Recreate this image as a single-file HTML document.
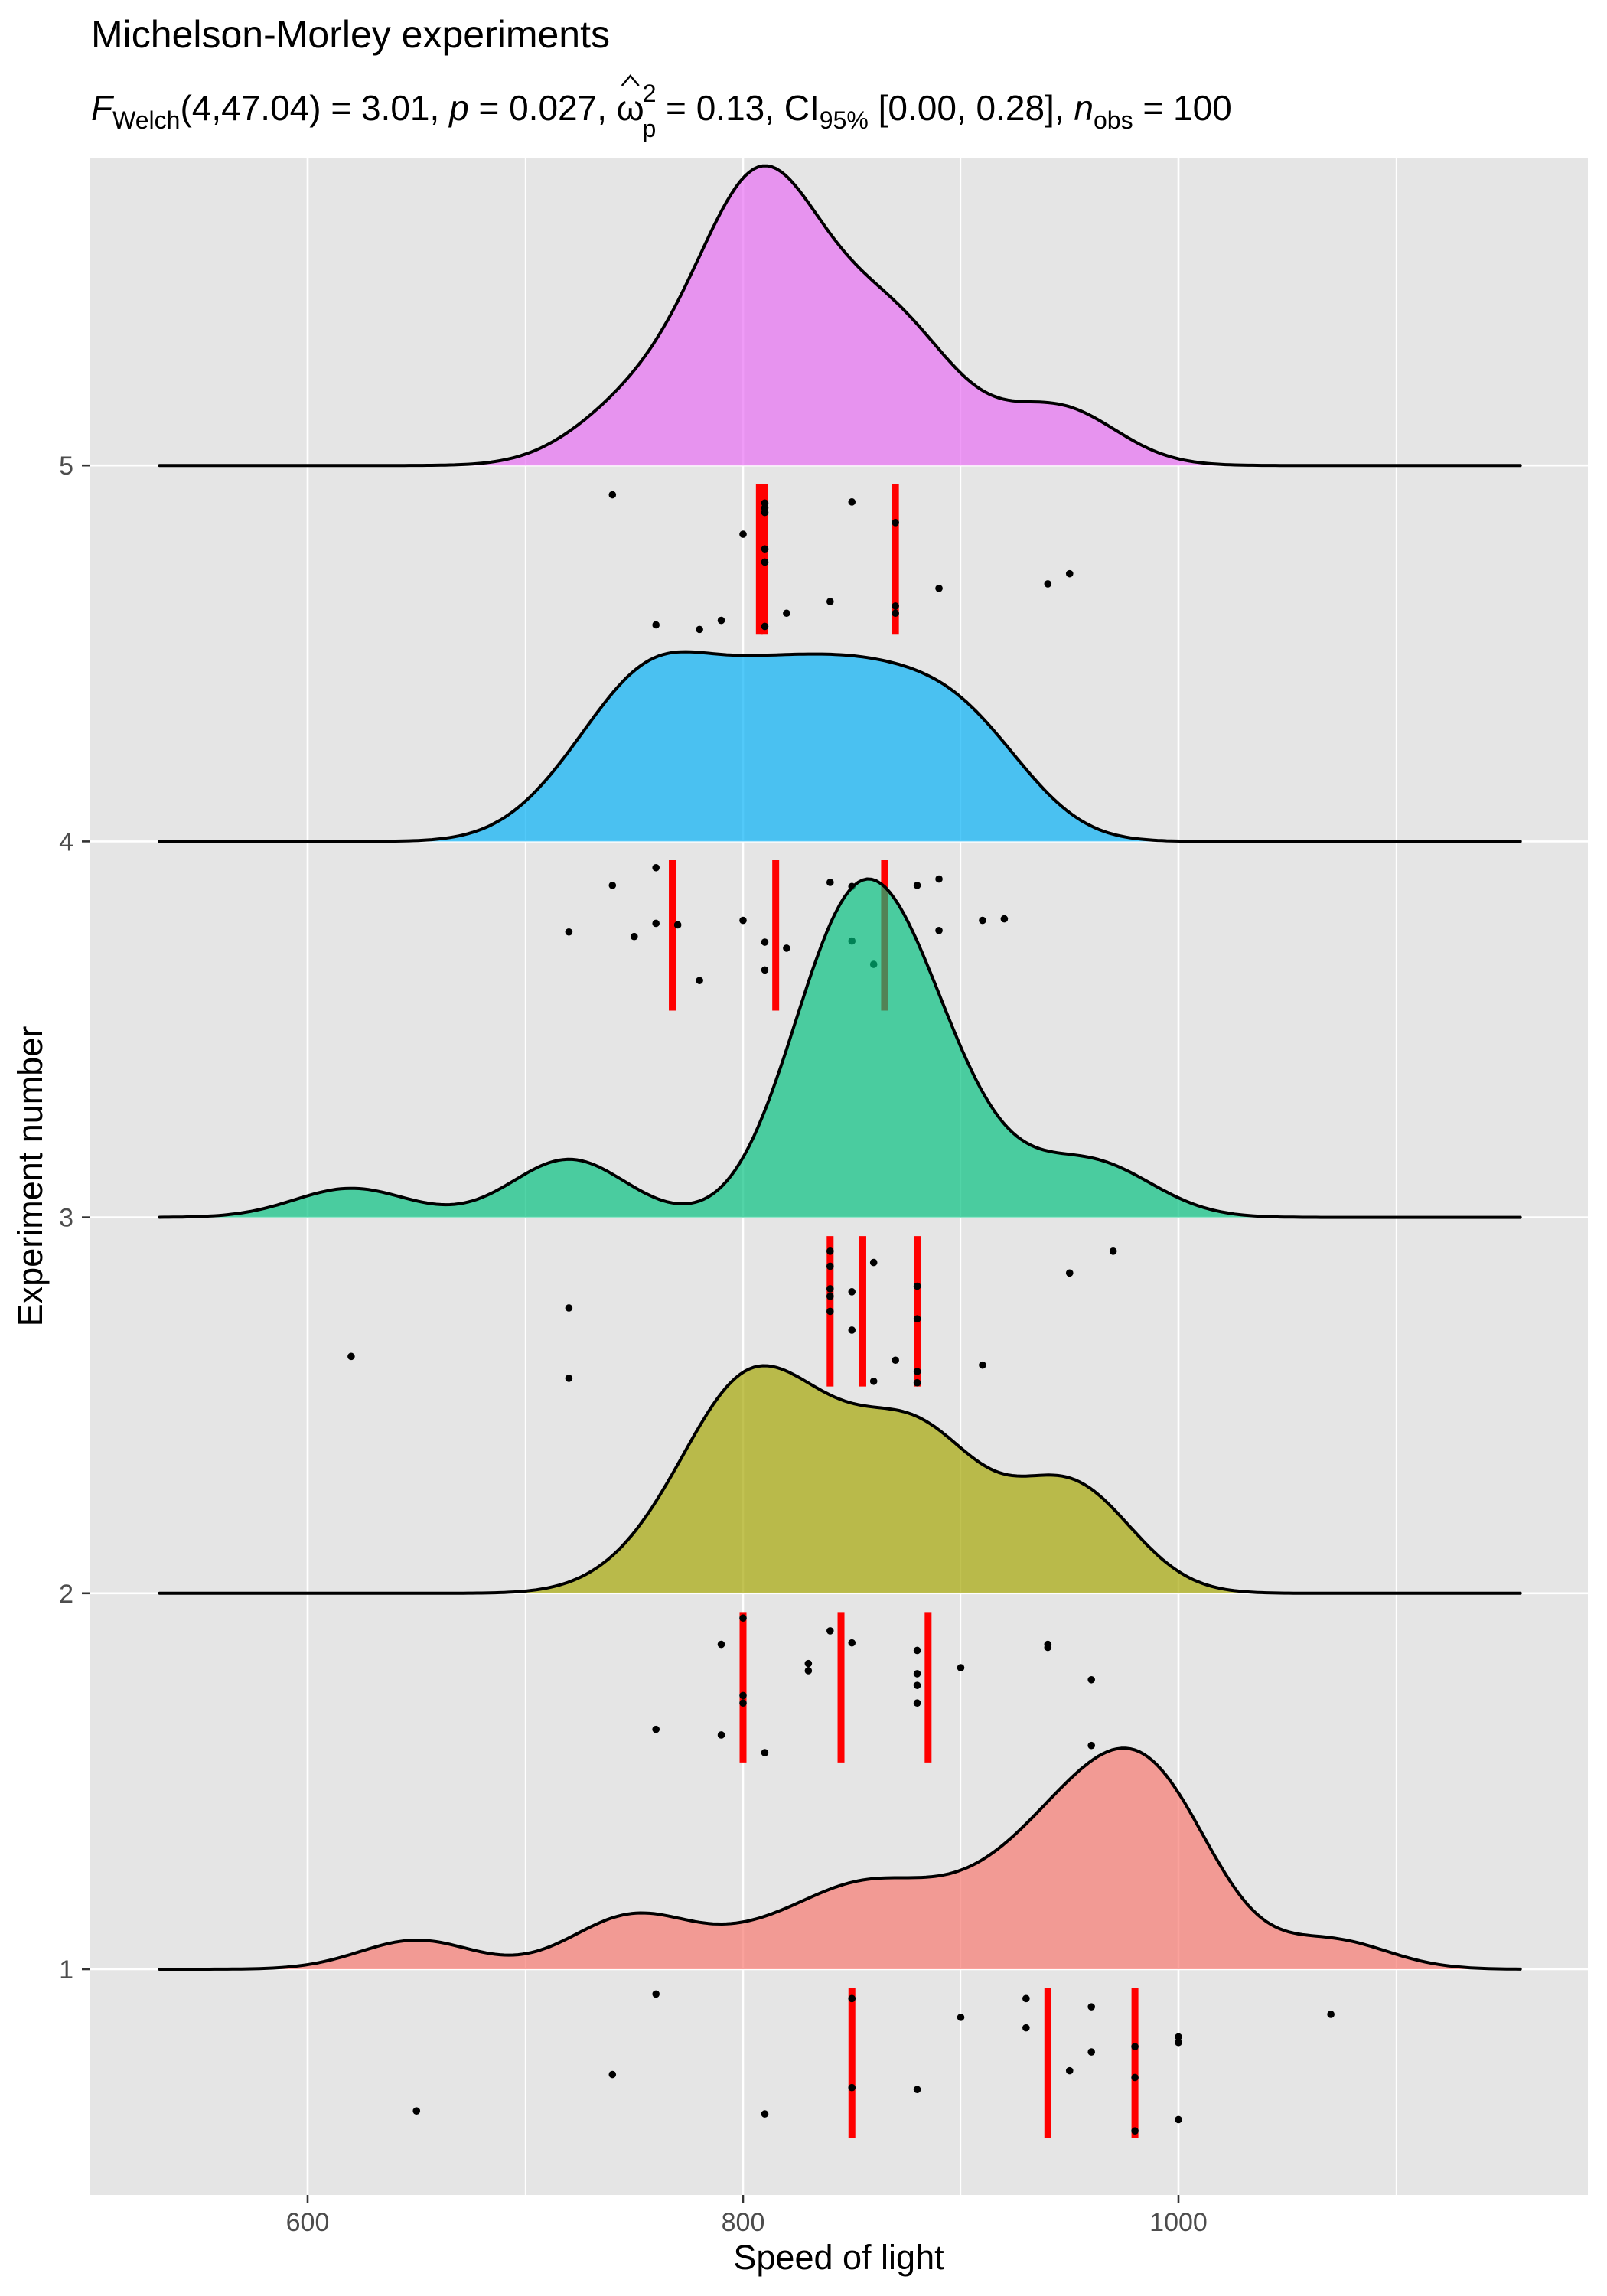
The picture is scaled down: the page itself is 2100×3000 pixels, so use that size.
<!DOCTYPE html>
<html><head><meta charset="utf-8"><style>
html,body{margin:0;padding:0;background:#fff;}
svg{display:block;font-family:"Liberation Sans",sans-serif;}
</style></head><body>
<svg id="chart" width="2100" height="3000" viewBox="0 0 2100 3000" xmlns="http://www.w3.org/2000/svg">
<text x="119" y="62" font-size="50" fill="#000">Michelson-Morley experiments</text>
<text id="subtitle" x="119" y="157" font-size="46" fill="#000"><tspan font-style="italic">F</tspan><tspan font-size="32" dy="11">Welch</tspan><tspan dy="-11">(4,47.04) = 3.01, </tspan><tspan font-style="italic">p</tspan><tspan> = 0.027, ω</tspan><tspan font-size="32" dx="-2" dy="-24">2</tspan><tspan font-size="32" dx="-18" dy="46">p</tspan><tspan dy="-22"> = 0.13, CI</tspan><tspan font-size="32" dy="11">95%</tspan><tspan dy="-11"> [0.00, 0.28], </tspan><tspan font-style="italic">n</tspan><tspan font-size="32" dy="11">obs</tspan><tspan dy="-11"> = 100</tspan></text>
<path id="omega-hat" d="" fill="none" stroke="#000" stroke-width="2.5"/>
<rect x="118" y="206" width="1957" height="2662" fill="#E5E5E5"/>
<g id="grid"></g>
<g id="marks"></g>
<g id="axes"></g>
<text x="1096" y="2965" font-size="45" text-anchor="middle" fill="#000">Speed of light</text>
<text transform="translate(55,1537) rotate(-90)" font-size="45" text-anchor="middle" fill="#000">Experiment number</text>
</svg>
<script>
const experiments = [1, 2, 3, 4, 5];
const speeds1 = [650,740,760,810,850,850,880,900,930,930,950,960,960,980,980,980,1000,1000,1000,1070];
const jitter1 = [0.377,0.28,0.066,0.385,0.078,0.315,0.32,0.128,0.078,0.156,0.27,0.10,0.22,0.206,0.288,0.43,0.18,0.195,0.40,0.12];
const speeds2 = [760,790,790,800,800,800,810,830,830,840,850,880,880,880,880,900,940,940,960,960];
const jitter2 = [0.362,0.136,0.377,0.066,0.272,0.292,0.424,0.187,0.206,0.10,0.132,0.152,0.214,0.245,0.292,0.198,0.136,0.144,0.23,0.405];
const speeds3 = [620,720,720,840,840,840,840,840,850,850,860,860,870,880,880,880,880,910,950,970];
const jitter3 = [0.37,0.241,0.428,0.09,0.13,0.19,0.21,0.25,0.198,0.30,0.12,0.436,0.38,0.183,0.27,0.41,0.44,0.393,0.148,0.09];
const speeds4 = [720,740,750,760,760,770,780,800,810,810,820,840,850,850,860,880,890,890,910,920];
const jitter4 = [0.241,0.117,0.253,0.07,0.218,0.222,0.37,0.21,0.268,0.342,0.284,0.109,0.12,0.265,0.327,0.117,0.10,0.237,0.21,0.206];
const speeds5 = [740,760,780,790,800,810,810,810,810,810,810,820,840,850,870,870,870,890,940,950];
const jitter5 = [0.078,0.424,0.436,0.412,0.183,0.10,0.113,0.125,0.222,0.257,0.428,0.393,0.362,0.097,0.152,0.374,0.393,0.327,0.315,0.288];
const xTicks = [600, 800, 1000];
const xMinor = [700, 900, 1100];
const xTickLabels = ["600", "800", "1000"];
const yTickLabels = ["1", "2", "3", "4", "5"];
const fills = ["#F8766D", "#A3A500", "#00BF7D", "#00B0F6", "#E76BF3"];

const allSpeeds = [speeds1, speeds2, speeds3, speeds4, speeds5];
const allJitter = [jitter1, jitter2, jitter3, jitter4, jitter5];
const NS = "http://www.w3.org/2000/svg";
const X = v => 402 + (v - 600) * 2.845;
const Y = l => 2573 - (l - 1) * 491.2;
const PL = 118, PR = 2075, PT = 206, PB = 2868;
function mk(tag, attrs, parent) { const e = document.createElementNS(NS, tag); for (const k in attrs) e.setAttribute(k, attrs[k]); parent.appendChild(e); return e; }
const grid = document.getElementById('grid'), marks = document.getElementById('marks'), axes = document.getElementById('axes');

(function(){ const st = document.getElementById('subtitle'); const idx = st.textContent.indexOf('ω');
  try { const b = st.getExtentOfChar(idx); const cx = b.x + b.width / 2;
    document.getElementById('omega-hat').setAttribute('d', 'M' + (cx - 11) + ' 112 L' + cx + ' 99 L' + (cx + 11) + ' 112'); } catch (err) {} })();

xMinor.forEach(v => { if (X(v) > PL && X(v) < PR) { const l = mk('line', {x1: X(v), x2: X(v), y1: PT, y2: PB, stroke: '#fff', 'stroke-width': 1.3}, grid);

 } });
xTicks.forEach(v => { const l = mk('line', {x1: X(v), x2: X(v), y1: PT, y2: PB, stroke: '#fff', 'stroke-width': 2.6}, grid);

 });
experiments.forEach(e => { const l = mk('line', {x1: PL, x2: PR, y1: Y(e), y2: Y(e), stroke: '#fff', 'stroke-width': 2.6}, grid);

 });

const flat = allSpeeds.flat();
const bw = 26;
const gMin = Math.min(...flat) - 88, gMax = Math.max(...flat) + 87;
const N = 300;
function kde(arr, x) { let s = 0; for (const v of arr) { const z = (x - v) / bw; s += Math.exp(-0.5 * z * z); } return s / (arr.length * bw * Math.sqrt(2 * Math.PI)); }
const dens = allSpeeds.map(arr => { const out = []; for (let i = 0; i <= N; i++) { const x = gMin + (gMax - gMin) * i / N; out.push([x, kde(arr, x)]); } return out; });
const maxD = Math.max(...dens.map(d => Math.max(...d.map(p => p[1]))));
const hScale = 0.9 / maxD;
function quant(arr, p) { const s = [...arr].sort((a, b) => a - b); const h = (s.length - 1) * p; const lo = Math.floor(h); return s[lo] + (h - lo) * ((s[lo + 1] ?? s[lo]) - s[lo]); }

for (let gi = experiments.length - 1; gi >= 0; gi--) {
  const e = experiments[gi];
  const g = mk('g', {}, marks);
  
  
  [0.25, 0.5, 0.75].forEach(p => { const q = quant(allSpeeds[gi], p);
    const l = mk('line', {x1: X(q), x2: X(q), y1: Y(e - 0.05), y2: Y(e - 0.45), stroke: '#FF0000', 'stroke-width': 9}, g);
    
     });
  allSpeeds[gi].forEach((v, i) => { const c = mk('circle', {cx: X(v), cy: Y(e - allJitter[gi][i]), r: 4.8, fill: '#000'}, g);
    
     });
  const d = dens[gi];
  let pts = d.map(p => X(p[0]).toFixed(1) + ',' + Y(e + p[1] * hScale).toFixed(1));
  const area = mk('path', {d: 'M' + X(d[0][0]) + ',' + Y(e) + ' L' + pts.join(' L') + ' L' + X(d[d.length - 1][0]) + ',' + Y(e) + ' Z', fill: fills[gi], 'fill-opacity': 0.68}, g);
  
  
  const line = mk('path', {d: 'M' + pts.join(' L'), fill: 'none', stroke: '#000', 'stroke-width': 4, 'stroke-linejoin': 'round', 'stroke-linecap': 'round'}, g);
  
  
}

xTicks.forEach((v, i) => {
  const t = mk('line', {x1: X(v), x2: X(v), y1: PB, y2: PB + 11, stroke: '#333', 'stroke-width': 2.6}, axes);
  
  
  const tx = mk('text', {x: X(v), y: 2915, 'font-size': 34, 'text-anchor': 'middle', fill: '#4D4D4D'}, axes);
  tx.textContent = xTickLabels[i];
  
  
});
experiments.forEach((e, i) => {
  const t = mk('line', {x1: PL - 11, x2: PL, y1: Y(e), y2: Y(e), stroke: '#333', 'stroke-width': 2.6}, axes);
  
  
  const tx = mk('text', {x: 96, y: Y(e) + 12, 'font-size': 34, 'text-anchor': 'end', fill: '#4D4D4D'}, axes);
  tx.textContent = yTickLabels[i];
  
  
});
</script>
</body></html>
